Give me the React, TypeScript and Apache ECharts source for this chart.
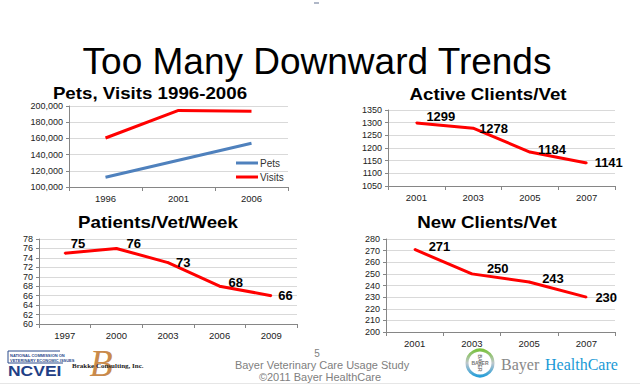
import React, { useEffect, useRef } from "react";
import * as echarts from "echarts";

// ---- data ----
const petsYears = ["1996", "2001", "2006"];
const petsValues = [112000, 133000, 154000];
const visitsValues = [160500, 194500, 193500];

const activeYears = ["2001", "2003", "2005", "2007"];
const activeValues = [1299, 1278, 1184, 1141];

const patientYears = ["1997", "2000", "2003", "2006", "2009"];
const patientValues = [75, 76, 73, 68, 66];

const newYears = ["2001", "2003", "2005", "2007"];
const newValues = [271, 250, 243, 230];

// ---- label placement (style only) ----
const activeLabelOffsets = [[9, -6], [5, 0], [7, -3], [7, 0]];
const patientLabelOffsets = [[5, -10], [9, -5], [7, 0], [8, -4], [6, 0]];
const newLabelOffsets = [[13, -3], [14, -5], [12, -4], [8, 0]];

const FONT = "Liberation Sans, Arial, sans-serif";
const RED = "#ff0000";
const BLUE = "#4f81bd";

function catAxis(gridIndex: number, data: string[], margin: number) {
  return {
    type: "category",
    gridIndex,
    data,
    boundaryGap: true,
    axisLine: { show: true, lineStyle: { color: "#868686", width: 1 } },
    axisTick: { show: true, length: 4, lineStyle: { color: "#868686" } },
    axisLabel: { fontSize: 9.5, color: "#222", margin, fontFamily: FONT },
    splitLine: { show: false },
  };
}

function valAxis(gridIndex: number, min: number, max: number, interval: number, fmt?: (v: number) => string) {
  return {
    type: "value",
    gridIndex,
    min,
    max,
    interval,
    axisLine: { show: true, lineStyle: { color: "#868686", width: 1 } },
    axisTick: { show: true, length: 3, lineStyle: { color: "#868686" } },
    axisLabel: {
      fontSize: 9,
      lineHeight: 9,
      color: "#222",
      margin: 6,
      fontFamily: FONT,
      showMinLabel: true,
      showMaxLabel: true,
      hideOverlap: false,
      formatter: fmt || ((v: number) => String(v)),
    },
    splitLine: { show: true, lineStyle: { color: "#d9d9d9", width: 1 } },
  };
}

const dataLabel = {
  show: true,
  position: "right",
  distance: 0,
  fontSize: 13,
  fontWeight: "bold",
  color: "#000",
  fontFamily: FONT,
};

export default function App() {
  const ref = useRef<HTMLDivElement>(null);

  useEffect(() => {
    if (!ref.current) return;
    const chart = echarts.init(ref.current, null, { renderer: "svg" });

    const graphicText = (text: string, x: number, y: number, font: string, fill: string, align = "center", scaleX = 1) => ({
      type: "text",
      x,
      y,
      scaleX,
      style: { text, font, fill, textAlign: align, textVerticalAlign: "middle" },
    });

    const redLine = (name: string, xi: number, values: number[], offsets: number[][]) => ({
      name,
      type: "line",
      xAxisIndex: xi,
      yAxisIndex: xi,
      data: values,
      symbol: "circle",
      symbolSize: 2,
      showSymbol: true,
      lineStyle: { color: RED, width: 3 },
      itemStyle: { color: RED },
      label: dataLabel,
      labelLayout: (p: any) => ({
        dx: offsets[p.dataIndex][0],
        dy: offsets[p.dataIndex][1],
        hideOverlap: false,
      }),
    });

    const option: any = {
      animation: false,
      backgroundColor: "#ffffff",
      textStyle: { fontFamily: FONT },
      grid: [
        { left: 69, top: 106, width: 219, height: 81 },
        { left: 388, top: 110, width: 227, height: 76 },
        { left: 39, top: 239, width: 258, height: 85 },
        { left: 386, top: 239, width: 229, height: 93 },
      ],
      xAxis: [
        catAxis(0, petsYears, 6),
        catAxis(1, activeYears, 6),
        catAxis(2, patientYears, 6),
        catAxis(3, newYears, 6),
      ],
      yAxis: [
        valAxis(0, 100000, 200000, 20000, (v: number) => v.toLocaleString("en-US")),
        valAxis(1, 1050, 1350, 50),
        valAxis(2, 60, 78, 2),
        valAxis(3, 200, 280, 10),
      ],
      legend: {
        data: ["Pets", "Visits"],
        orient: "vertical",
        left: 231,
        top: 153,
        itemWidth: 22,
        itemHeight: 3,
        itemGap: 4,
        icon: "rect",
        textStyle: { fontSize: 10, color: "#333", fontFamily: FONT, padding: [0, 0, 0, -3] },
      },
      series: [
        {
          name: "Pets",
          type: "line",
          xAxisIndex: 0,
          yAxisIndex: 0,
          data: petsValues,
          symbol: "none",
          lineStyle: { color: BLUE, width: 3 },
          itemStyle: { color: BLUE },
        },
        {
          name: "Visits",
          type: "line",
          xAxisIndex: 0,
          yAxisIndex: 0,
          data: visitsValues,
          symbol: "none",
          lineStyle: { color: RED, width: 3 },
          itemStyle: { color: RED },
        },
        redLine("Active Clients/Vet", 1, activeValues, activeLabelOffsets),
        redLine("Patients/Vet/Week", 2, patientValues, patientLabelOffsets),
        redLine("New Clients/Vet", 3, newValues, newLabelOffsets),
      ],
      graphic: [
        graphicText("Too Many Downward Trends", 317, 61, `37px ${FONT}`, "#000"),
        graphicText("Pets, Visits 1996-2006", 150, 93, `bold 16px ${FONT}`, "#000", "center", 1.17),
        graphicText("Active Clients/Vet", 488, 94, `bold 16px ${FONT}`, "#000", "center", 1.17),
        graphicText("Patients/Vet/Week", 158, 222, `bold 16px ${FONT}`, "#000", "center", 1.17),
        graphicText("New Clients/Vet", 487, 222, `bold 16px ${FONT}`, "#000", "center", 1.17),
        // footer center
        graphicText("5", 317, 353, `10px ${FONT}`, "#808080"),
        graphicText("Bayer Veterinary Care Usage Study", 322, 365, `11px ${FONT}`, "#808080"),
        graphicText("\u00A92011 Bayer HealthCare", 320, 377, `11px ${FONT}`, "#808080"),
        // NCVEI logo
        { type: "line", shape: { x1: 8, y1: 351, x2: 8, y2: 363 }, style: { stroke: "#2b4a8b", lineWidth: 1 } },
        { type: "line", shape: { x1: 8, y1: 351, x2: 60, y2: 351 }, style: { stroke: "#2b4a8b", lineWidth: 1 } },
        graphicText("NATIONAL COMMISSION ON", 10, 355, `bold 4px ${FONT}`, "#2b4a8b", "left"),
        graphicText("VETERINARY ECONOMIC ISSUES", 10, 360, `bold 4px ${FONT}`, "#2b4a8b", "left"),
        { type: "line", shape: { x1: 8, y1: 363, x2: 63, y2: 363 }, style: { stroke: "#2b4a8b", lineWidth: 1 } },
        graphicText("NCVEI", 8, 371, `bold 14px ${FONT}`, "#1f3f86", "left", 1.25),
        // Brakke logo
        graphicText("B", 101, 363, `italic 38px Liberation Serif, serif`, "#c98a4b"),
        graphicText("Brakke Consulting, Inc.", 72, 366, `bold 7px Liberation Serif, serif`, "#222", "left"),
        // Bayer logo
        {
          type: "circle",
          shape: { cx: 480, cy: 363, r: 13 },
          style: {
            fill: "none",
            lineWidth: 3,
            stroke: new echarts.graphic.LinearGradient(0, 0, 0, 1, [
              { offset: 0, color: "#7cc242" },
              { offset: 0.5, color: "#bfc7cc" },
              { offset: 1, color: "#2a9fd8" },
            ]),
          },
        },
        graphicText("BAYER", 480, 363, `bold 5px ${FONT}`, "#777"),
        {
          type: "text",
          x: 480,
          y: 363,
          rotation: -Math.PI / 2,
          style: { text: "BAYER", font: `bold 5px ${FONT}`, fill: "#777", textAlign: "center", textVerticalAlign: "middle" },
        },
        graphicText("Bayer", 501, 364, `16px Liberation Serif, serif`, "#888", "left"),
        graphicText("HealthCare", 545, 364, `16px Liberation Serif, serif`, "#1a9ad6", "left"),
        // page marks
        { type: "line", shape: { x1: 0, y1: 383.5, x2: 640, y2: 383.5 }, style: { stroke: "#e6e6e6", lineWidth: 1 } },
        { type: "rect", shape: { x: 314, y: 2, width: 5, height: 2 }, style: { fill: "#b0b8c8" } },
      ],
    };

    chart.setOption(option);
    return () => chart.dispose();
  }, []);

  return (
    <div
      ref={ref}
      style={{ position: "absolute", left: 0, top: 0, width: 640, height: 385, background: "#fff" }}
    />
  );
}
